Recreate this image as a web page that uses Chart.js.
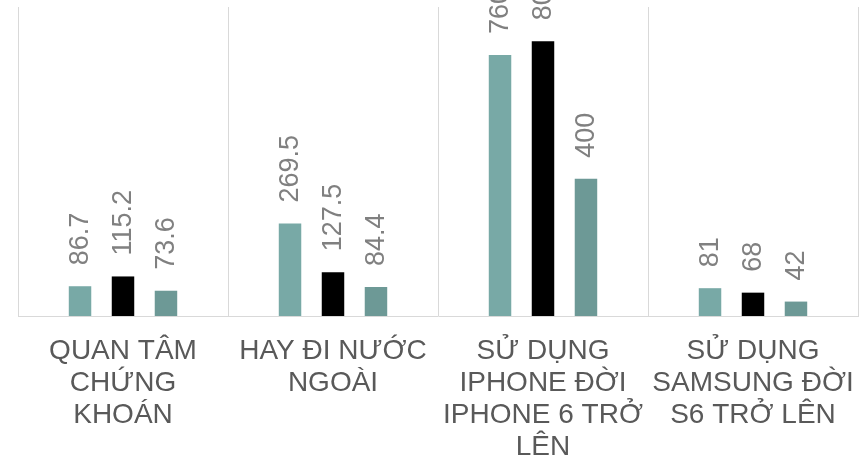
<!DOCTYPE html>
<html>
<head>
<meta charset="utf-8">
<script src="https://cdn.jsdelivr.net/npm/chart.js@4/dist/chart.umd.min.js"></script>
<style>
  html, body { margin: 0; padding: 0; background: #ffffff; }
  #wrap { width: 867px; height: 466px; }
</style>
</head>
<body>
<div id="wrap"><canvas id="chart"></canvas></div>
<script>
// ── Data ──────────────────────────────────────────────────────────────
const categories = [
    ['QUAN TÂM', 'CHỨNG', 'KHOÁN'],
    ['HAY ĐI NƯỚC', 'NGOÀI'],
    ['SỬ DỤNG', 'IPHONE ĐỜI', 'IPHONE 6 TRỞ', 'LÊN'],
    ['SỬ DỤNG', 'SAMSUNG ĐỜI', 'S6 TRỞ LÊN']
];
const series1 = [86.7, 269.5, 760, 81];
const series2 = [115.2, 127.5, 800, 68];
const series3 = [73.6, 84.4, 400, 42];
const yMax = 900;

// ── Style ─────────────────────────────────────────────────────────────
const FONT = "'Liberation Sans', Arial, sans-serif";
const COLORS = ['#78a9a6', '#000000', '#6d9996'];
const GRID = '#d9d9d9';

// rotated value labels above each bar
const valueLabels = {
    id: 'valueLabels',
    afterDatasetsDraw(chart) {
        const ctx = chart.ctx;
        ctx.save();
        ctx.font = '27px ' + FONT;
        ctx.fillStyle = '#808080';
        ctx.textAlign = 'left';
        ctx.textBaseline = 'middle';
        chart.data.datasets.forEach((ds, i) => {
            chart.getDatasetMeta(i).data.forEach((bar, j) => {
                ctx.save();
                ctx.translate(bar.x + 1, bar.y - 21);
                ctx.rotate(-Math.PI / 2);
                ctx.fillText(String(ds.data[j]), 0, 0);
                ctx.restore();
            });
        });
        ctx.restore();
    }
};

new Chart(document.getElementById('chart'), {
    type: 'bar',
    data: {
        labels: categories,
        datasets: [
            { data: series1, backgroundColor: COLORS[0] },
            { data: series2, backgroundColor: COLORS[1] },
            { data: series3, backgroundColor: COLORS[2] }
        ]
    },
    options: {
        responsive: true,
        maintainAspectRatio: false,
        animation: false,
        categoryPercentage: 0.614,
        barPercentage: 0.523,
        layout: { padding: { top: 7, left: 18, right: 9, bottom: 0 } },
        plugins: {
            legend: { display: false },
            tooltip: { enabled: false }
        },
        scales: {
            x: {
                grid: { color: GRID, lineWidth: 1, drawTicks: false, offset: true },
                border: { color: GRID, width: 1 },
                ticks: {
                    maxRotation: 0,
                    minRotation: 0,
                    autoSkip: false,
                    padding: 19,
                    color: '#595959',
                    font: { family: FONT, size: 28, lineHeight: 1.15 }
                },
                // fixed axis band under the plot, labels may overhang sideways
                afterFit(scale) {
                    scale.height = 150;
                    scale.paddingLeft = 0;
                    scale.paddingRight = 0;
                }
            },
            y: {
                display: false,
                min: 0,
                max: yMax
            }
        }
    },
    plugins: [valueLabels]
});
</script>
</body>
</html>
